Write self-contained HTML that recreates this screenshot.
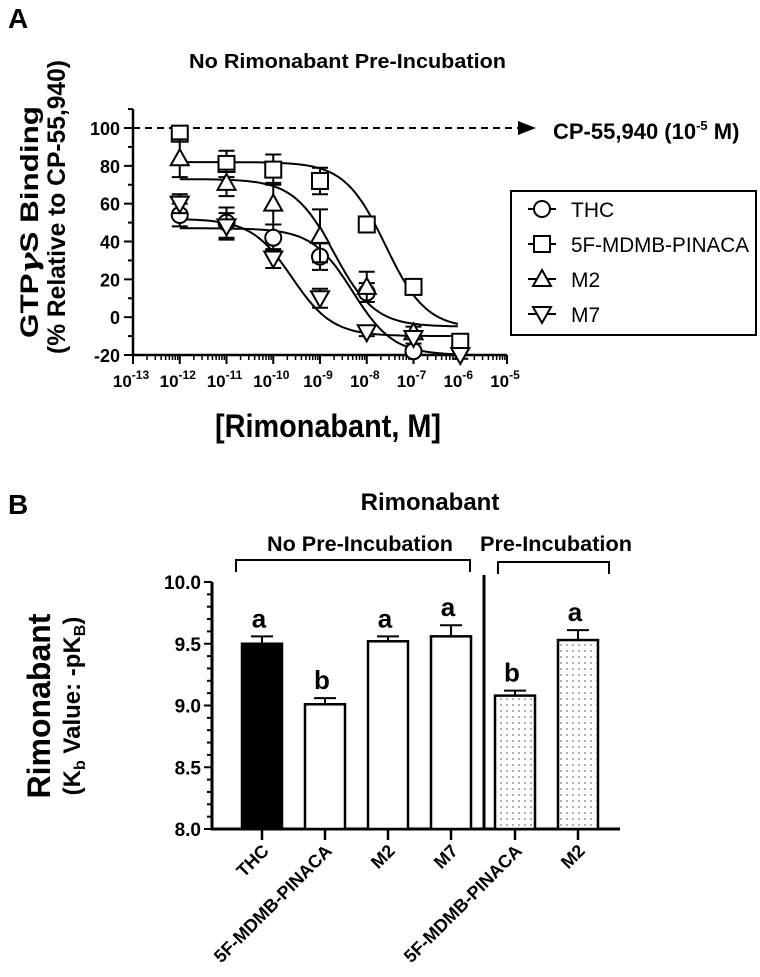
<!DOCTYPE html>
<html><head><meta charset="utf-8"><style>
html,body{margin:0;padding:0;background:#fff;}
svg{display:block;font-family:"Liberation Sans",Arial,sans-serif;}
</style></head><body>
<svg id="fig" width="760" height="977" viewBox="0 0 760 977" xmlns="http://www.w3.org/2000/svg">
<text x="8" y="28" font-size="28" font-weight="bold">A</text>
<text x="189" y="68" font-size="20" font-weight="bold" textLength="317" lengthAdjust="spacingAndGlyphs">No Rimonabant Pre-Incubation</text>
<g id="axA"></g>
<g transform="rotate(-90)" font-weight="bold">
<text x="-338" y="38" font-size="25" textLength="232" lengthAdjust="spacingAndGlyphs">GTP<tspan font-family="DejaVu Serif, serif" font-style="italic">γ</tspan>S Binding</text>
<text x="-354" y="65" font-size="25" textLength="294" lengthAdjust="spacingAndGlyphs">(% Relative to CP-55,940)</text>
</g>
<text x="215" y="437" font-size="32" font-weight="bold" textLength="226" lengthAdjust="spacingAndGlyphs">[Rimonabant, M]</text>
<text x="553" y="139" font-size="22" font-weight="bold">CP-55,940 (10<tspan font-size="13" dy="-9">-5</tspan><tspan dy="9"> M)</tspan></text>
<g id="legend">
<rect x="511" y="191" width="245" height="144" fill="#fff" stroke="#000" stroke-width="2"/>
</g>

<text x="8" y="514" font-size="28" font-weight="bold">B</text>
<text x="430" y="510" font-size="24" font-weight="bold" text-anchor="middle">Rimonabant</text>
<text x="360" y="551" font-size="21" font-weight="bold" text-anchor="middle" textLength="186" lengthAdjust="spacingAndGlyphs">No Pre-Incubation</text>
<text x="556" y="551" font-size="21" font-weight="bold" text-anchor="middle" textLength="152" lengthAdjust="spacingAndGlyphs">Pre-Incubation</text>
<path d="M236,572 V560 H470 V572" fill="none" stroke="#000" stroke-width="2"/>
<path d="M498,574 V562 H609 V574" fill="none" stroke="#000" stroke-width="2"/>
<g transform="rotate(-90)" font-weight="bold">
<text x="-706" y="50" font-size="32" text-anchor="middle">Rimonabant</text>
<text x="-706" y="80" font-size="24" text-anchor="middle">(K<tspan font-size="16" dy="5">b</tspan><tspan dy="-5"> Value: -pK</tspan><tspan font-size="16" dy="5">B</tspan><tspan dy="-5">)</tspan></text>
</g>
<defs>
<pattern id="dots" width="6" height="6" patternUnits="userSpaceOnUse"><rect width="6" height="6" fill="#fff"/><circle cx="3" cy="3" r="0.9" fill="#777"/></pattern>
</defs>
<g id="axB"></g>
</svg>
<script>
// Panel A data
const logConc = [-12,-11,-10,-9,-8,-7,-6];
const seriesNames = ["THC","5F-MDMB-PINACA","M2","M7"];
const thcVals = [54,50,42,32,13,-18,null];
const thcErr = [6,8,7,7,5,2,null];
const fVals = [97,81,78,72,49,16,-13];
const fErr = [3,7,8,7,3,2,2];
const m2Vals = [84,71,60,43,16,-8,null];
const m2Err = [10,7,11,14,8,3,null];
const m7Vals = [60,48,31,10,-8,-11,-20];
const m7Err = [5,7,5,5,2,3,2];
// fitted curve parameters: top, bottom, logIC50
const thcFit = [47,-20,-8.3];
const fFit = [82,-6,-7.6];
const m2Fit = [73,-5,-8.7];
const m7Fit = [52,-10,-9.6];
const yTicksA = [-20,0,20,40,60,80,100];
const xTicksA = [-13,-12,-11,-10,-9,-8,-7,-6,-5];
// Panel B data
const barCats = ["THC","5F-MDMB-PINACA","M2","M7","5F-MDMB-PINACA","M2"];
const barVals = [9.50,9.01,9.52,9.56,9.08,9.53];
const barErr = [0.06,0.05,0.04,0.09,0.04,0.08];
const barLetters = ["a","b","a","a","b","a"];
const yTicksB = ["8.0","8.5","9.0","9.5","10.0"];

const NS="http://www.w3.org/2000/svg";
function mk(parent,tag,attrs,text){const e=document.createElementNS(NS,tag);for(const k in attrs)e.setAttribute(k,attrs[k]);if(text!==undefined)e.textContent=text;parent.appendChild(e);return e;}
const xA=l=>133+(l+13)*46.75;
const yA=v=>355-(v+20)*(227/120);
const gA=document.getElementById('axA');
let e;
e=mk(gA,'line',{x1:133,y1:yA(110),x2:133,y2:yA(-20),stroke:'#000','stroke-width':2.5});


e=mk(gA,'line',{x1:133,y1:355,x2:507,y2:355,stroke:'#000','stroke-width':2.5});


for(let v=-20;v<=110;v+=10){mk(gA,'line',{x1:v%20===0?124:128,y1:yA(v),x2:133,y2:yA(v),stroke:'#000','stroke-width':2});}
yTicksA.forEach(v=>{e=mk(gA,'text',{x:120,y:yA(v)+7,'font-size':18,'font-weight':'bold','text-anchor':'end'},String(v));

});
xTicksA.forEach((l,i)=>{mk(gA,'line',{x1:xA(l),y1:355,x2:xA(l),y2:364,stroke:'#000','stroke-width':2});
 if(i<xTicksA.length-1){for(let k=2;k<10;k++){const xx=xA(l+Math.log10(k));mk(gA,'line',{x1:xx,y1:355,x2:xx,y2:360,stroke:'#000','stroke-width':1.5});}}
 const t=mk(gA,'text',{x:xA(l)-2,y:387,'font-size':17,'font-weight':'bold','text-anchor':'middle'});
 
 
 mk(t,'tspan',{},'10');mk(t,'tspan',{'font-size':12,dy:-8},String(l));});
e=mk(gA,'line',{x1:133,y1:yA(100),x2:520,y2:yA(100),stroke:'#000','stroke-width':2,'stroke-dasharray':'7,5'});


e=mk(gA,'path',{d:`M518,${yA(100)-7} L536,${yA(100)} L518,${yA(100)+7} Z`,fill:'#000'});


function marker(g,shape,x,y){
 if(shape==='circle')return mk(g,'circle',{cx:x,cy:y,r:8,fill:'#fff',stroke:'#000','stroke-width':2});
 if(shape==='square')return mk(g,'rect',{x:x-8,y:y-8,width:16,height:16,fill:'#fff',stroke:'#000','stroke-width':2});
 if(shape==='tri')return mk(g,'path',{d:`M${x},${y-9} L${x+9},${y+7} L${x-9},${y+7} Z`,fill:'#fff',stroke:'#000','stroke-width':2});
 return mk(g,'path',{d:`M${x},${y+9} L${x+9},${y-7} L${x-9},${y-7} Z`,fill:'#fff',stroke:'#000','stroke-width':2});
}
const series=[[thcVals,thcErr,thcFit,'circle','thc'],[fVals,fErr,fFit,'square','5f-mdmb-pinaca'],[m2Vals,m2Err,m2Fit,'tri','m2'],[m7Vals,m7Err,m7Fit,'inv','m7']];
series.forEach(([vals,err,fit,shape,nm])=>{
 let d='';for(let l=-12;l<=-6.001;l+=0.05){const v=fit[1]+(fit[0]-fit[1])/(1+Math.pow(10,l-fit[2]));d+=(d?'L':'M')+xA(l).toFixed(1)+','+yA(v).toFixed(1);}
 e=mk(gA,'path',{d:d,fill:'none',stroke:'#000','stroke-width':2});
 
 
});
series.forEach(([vals,err,fit,shape,nm])=>{
 vals.forEach((v,i)=>{if(v===null)return;const x=xA(logConc[i]);
  const g=mk(gA,'g',{});
  
  
  const e1=yA(v+err[i]),e2=yA(v-err[i]);
  mk(g,'path',{d:`M${x},${e1} V${e2} M${x-8},${e1} H${x+8} M${x-8},${e2} H${x+8}`,stroke:'#000','stroke-width':2,fill:'none'});
  marker(g,shape,x,yA(v));});
});
const lg=document.getElementById('legend');
const lShapes=['circle','square','tri','inv'];
seriesNames.forEach((n,i)=>{const y=209+i*35;const g=mk(lg,'g',{});
 
 
 mk(g,'line',{x1:528,y1:y,x2:556,y2:y,stroke:'#000','stroke-width':2});
 marker(g,lShapes[i],542,y);
 const t=mk(g,'text',{x:571,y:y+8,'font-size':21},n);
 if(i===1){t.setAttribute('textLength','178');t.setAttribute('lengthAdjust','spacingAndGlyphs');}
});
// Panel B
const gB=document.getElementById('axB');
const yB=v=>829-(v-8)*123.5;
const barX=[262,325,388,451,515,578];
e=mk(gB,'line',{x1:212,y1:yB(10),x2:212,y2:830,stroke:'#000','stroke-width':3});


e=mk(gB,'line',{x1:211,y1:829,x2:620,y2:829,stroke:'#000','stroke-width':3});


e=mk(gB,'line',{x1:484,y1:575,x2:484,y2:829,stroke:'#000','stroke-width':3});


for(let v=8;v<=10.001;v+=0.1){const major=Math.abs(v*2-Math.round(v*2))<1e-6;mk(gB,'line',{x1:major?204:207,y1:yB(v),x2:212,y2:yB(v),stroke:'#000','stroke-width':2});}
yTicksB.forEach(s=>{e=mk(gB,'text',{x:201,y:yB(+s)+7,'font-size':19,'font-weight':'bold','text-anchor':'end'},s);

});
barVals.forEach((v,i)=>{const x=barX[i];const g=mk(gB,'g',{});
 
 
 const top=yB(v),et=yB(v+barErr[i]);
 mk(g,'path',{d:`M${x},${top} V${et} M${x-11},${et} H${x+11}`,stroke:'#000','stroke-width':2});
 mk(g,'rect',{x:x-20,y:top,width:40,height:829-top,fill:i===0?'#000':(i>=4?'url(#dots)':'#fff'),stroke:'#000','stroke-width':2.5});
 mk(g,'text',{x:x-3,y:et-9,'font-size':26,'font-weight':'bold','text-anchor':'middle'},barLetters[i]);
 mk(gB,'line',{x1:x,y1:829,x2:x,y2:840,stroke:'#000','stroke-width':2.5});
 const t=mk(gB,'text',{x:x+8,y:852,'font-size':18,'font-weight':'bold','text-anchor':'end',transform:`rotate(-45 ${x+8} 852)`},barCats[i]);
 
 
});
</script>
</body></html>
